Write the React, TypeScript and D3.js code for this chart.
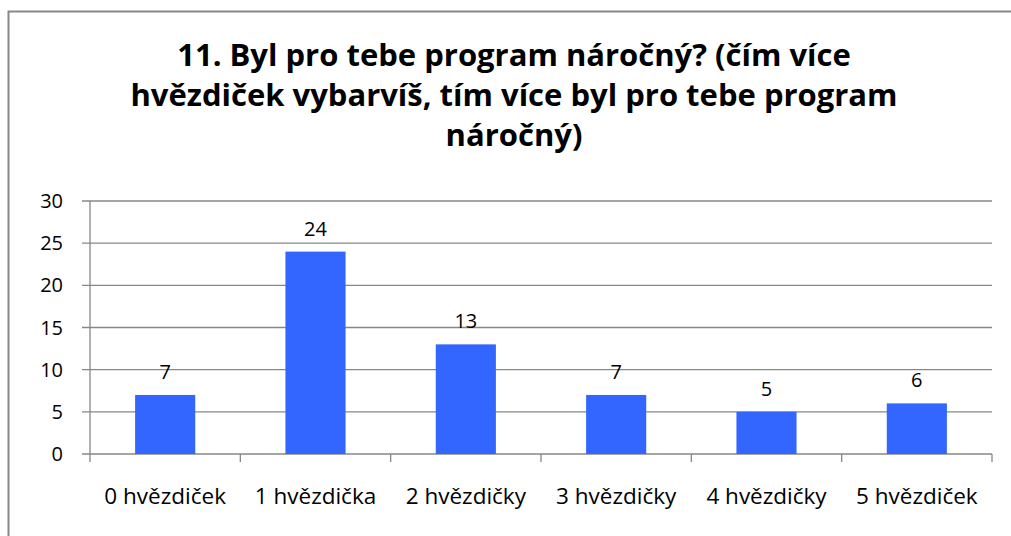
import React from "react";
import * as d3 from "d3";

const categories: string[] = ["0 hvězdiček", "1 hvězdička", "2 hvězdičky", "3 hvězdičky", "4 hvězdičky", "5 hvězdiček"];
const values: number[] = [7, 24, 13, 7, 5, 6];
const yTicks: number[] = [0, 5, 10, 15, 20, 25, 30];
const titleLines: string[] = [
  "11. Byl pro tebe program náročný? (čím více",
  "hvězdiček vybarvíš, tím více byl pro tebe program",
  "náročný)",
];

const W = 1011;
const H = 536;
const FONT = "'Open Sans', Lato, sans-serif";

export default function App() {
  const left = 90, right = 992, top = 201, bottom = 454;
  const x = d3.scaleBand<string>().domain(categories).range([left, right]).paddingInner(0.6).paddingOuter(0.3);
  const xb = d3.scaleBand<string>().domain(categories).range([left, right]);
  const y = d3.scaleLinear().domain([0, 30]).range([bottom, top]);
  const grid = "#878787";
  return (
    <svg width={W} height={H} style={{ position: "absolute", left: 0, top: 0 }}>
      <rect x={0} y={0} width={W} height={H} fill="#fff" />
      <rect x={8.5} y={11.5} width={W + 20} height={H + 20} fill="#fff" stroke={grid} strokeWidth={2} />
      <g fontFamily={FONT} fontWeight="bold" fontSize={31} textAnchor="middle" fill="#000">
        {titleLines.map((t, i) => (
          <text key={i} x={514} y={66 + i * 40}>{t}</text>
        ))}
      </g>
      {yTicks.map((t) => (
        <g key={t}>
          <line x1={82} x2={right} y1={y(t)} y2={y(t)} stroke={grid} strokeWidth={1.3} />
          <text x={63} y={y(t) + 7} textAnchor="end" fontFamily={FONT} fontSize={20} fill="#000">{t}</text>
        </g>
      ))}
      <line x1={left} x2={left} y1={top} y2={bottom + 8} stroke={grid} strokeWidth={1.3} />
      {categories.map((c) => (
        <line key={c} x1={(xb(c) as number) + xb.bandwidth()} x2={(xb(c) as number) + xb.bandwidth()} y1={bottom} y2={bottom + 8} stroke={grid} strokeWidth={1.3} />
      ))}
      {categories.map((c, i) => (
        <g key={c}>
          <rect x={x(c)} y={y(values[i])} width={x.bandwidth()} height={bottom - y(values[i])} fill="#3366FF" />
          <text x={(x(c) as number) + x.bandwidth() / 2} y={y(values[i]) - 16} textAnchor="middle" fontFamily={FONT} fontSize={20} fill="#000">{values[i]}</text>
          <text x={(xb(c) as number) + xb.bandwidth() / 2} y={504} textAnchor="middle" fontFamily={FONT} fontSize={22.5} fill="#000">{c}</text>
        </g>
      ))}
    </svg>
  );
}
